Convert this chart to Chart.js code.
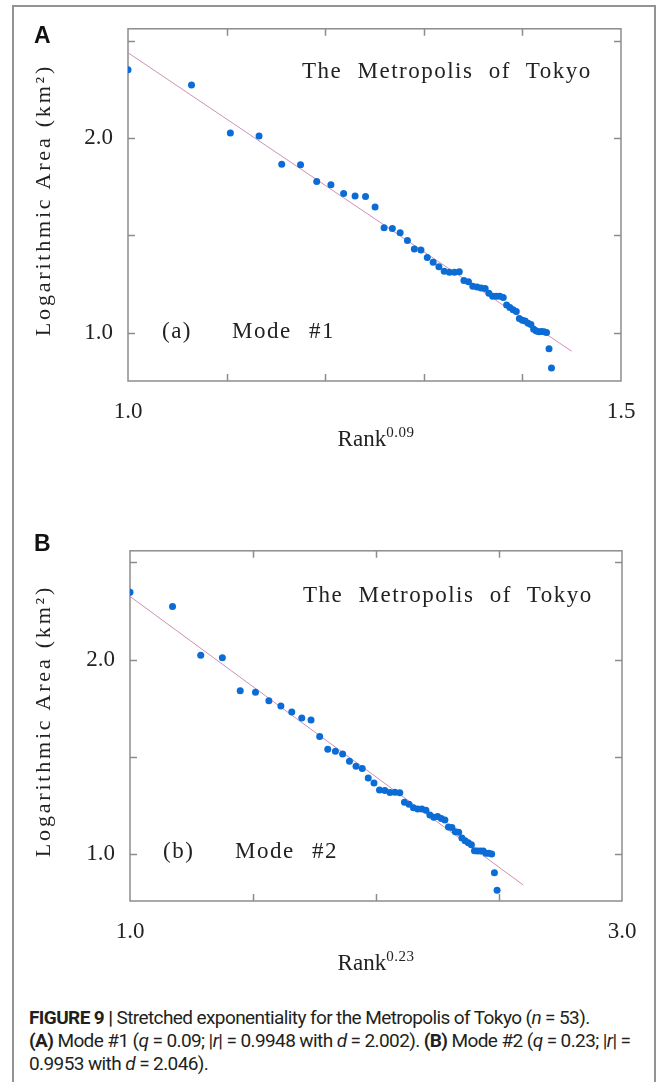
<!DOCTYPE html>
<html>
<head>
<meta charset="utf-8">
<script src="https://cdn.jsdelivr.net/npm/chart.js@4.4.1/dist/chart.umd.min.js"></script>
<style>
  html, body { margin: 0; padding: 0; background: #fff; }
  body { width: 663px; height: 1082px; position: relative; overflow: hidden; font-family: 'Liberation Serif', serif; color: #222; }
  .frame { position: absolute; left: 12px; top: 5px; width: 640px; height: 1100px; border: 2px solid #939393; border-bottom: none; }
  canvas { position: absolute; left: 0; }
  .letter { position: absolute; left: 34px; font: bold 23px/23px 'Liberation Sans', Arial, sans-serif; color: #111; }
  .ser { position: absolute; font-size: 23px; line-height: 23px; letter-spacing: 1.5px; white-space: nowrap; color: #222; }
  .ytitle { position: absolute; width: 340px; height: 22px; font-size: 22px; line-height: 22px; letter-spacing: 2.8px; text-align: center; transform: rotate(-90deg); white-space: nowrap; color: #222; }
  .xtitle { position: absolute; width: 200px; text-align: center; font-size: 23px; line-height: 23px; white-space: nowrap; color: #222; }
  .xtitle sup { font-size: 15px; vertical-align: 9px; line-height: 0; letter-spacing: 0.5px; }
  .caption { position: absolute; left: 29px; font-family: Roboto, sans-serif; font-size: 19px; line-height: 23px; color: #231f20; letter-spacing: -0.6px; white-space: nowrap; }
  .caption b { font-weight: 700; }
</style>
</head>
<body>
<div class="frame"></div>

<canvas id="chartA" width="663" height="470" style="top:0px"></canvas>
<canvas id="chartB" width="663" height="470" style="top:522px"></canvas>

<!-- panel A labels -->
<div class="letter" style="top:24px">A</div>
<div class="ser" style="left:302px; top:59px; word-spacing:8px">The Metropolis of Tokyo</div>
<div class="ser" style="left:162px; top:319px">(a)</div>
<div class="ser" style="left:232px; top:319px; word-spacing:10px">Mode #1</div>
<div class="ytitle" style="left:-127px; top:189px">Logarithmic Area (km²)</div>
<div class="xtitle" style="left:276px; top:427px">Rank<sup>0.09</sup></div>

<!-- panel B labels -->
<div class="letter" style="top:532px">B</div>
<div class="ser" style="left:303px; top:583px; word-spacing:8px">The Metropolis of Tokyo</div>
<div class="ser" style="left:163px; top:839px">(b)</div>
<div class="ser" style="left:235px; top:839px; word-spacing:10px">Mode #2</div>
<div class="ytitle" style="left:-127px; top:710px">Logarithmic Area (km²)</div>
<div class="xtitle" style="left:276px; top:951px">Rank<sup>0.23</sup></div>

<div class="caption" style="top:1006px"><b>FIGURE 9 |</b> Stretched exponentiality for the Metropolis of Tokyo (<i>n</i> = 53).</div>
<div class="caption" style="top:1029px; width:592px; text-align:justify; text-align-last:justify"><b>(A)</b> Mode #1 (<i>q</i> = 0.09; |<i>r</i>| = 0.9948 with <i>d</i> = 2.002). <b>(B)</b> Mode #2 (<i>q</i> = 0.23; |<i>r</i>| =</div>
<div class="caption" style="top:1052px">0.9953 with <i>d</i> = 2.046).</div>

<script>
// Rank^0.09 for ranks 1..53 and the log10 areas plotted against them
const rankPowA = [1.0000, 1.0644, 1.1038, 1.1329, 1.1559, 1.1750, 1.1914, 1.2058, 1.2187, 1.2303,
  1.2409, 1.2506, 1.2597, 1.2681, 1.2760, 1.2834, 1.2904, 1.2971, 1.3035, 1.3095,
  1.3153, 1.3207, 1.3260, 1.3311, 1.3360, 1.3407, 1.3453, 1.3497, 1.3540, 1.3581,
  1.3622, 1.3660, 1.3698, 1.3735, 1.3771, 1.3806, 1.3840, 1.3873, 1.3906, 1.3938,
  1.3969, 1.3999, 1.4028, 1.4058, 1.4086, 1.4114, 1.4141, 1.4168, 1.4194, 1.4220,
  1.4245, 1.4270, 1.4295];
const logAreaA = [2.352, 2.274, 2.027, 2.012, 1.866, 1.863, 1.778, 1.761, 1.716, 1.703,
  1.700, 1.646, 1.540, 1.535, 1.514, 1.474, 1.430, 1.425, 1.386, 1.362,
  1.339, 1.315, 1.310, 1.311, 1.313, 1.268, 1.261, 1.239, 1.234, 1.230,
  1.227, 1.203, 1.187, 1.187, 1.187, 1.181, 1.142, 1.129, 1.117, 1.108,
  1.073, 1.063, 1.060, 1.048, 1.042, 1.017, 1.008, 1.005, 1.006, 1.005,
  1.000, 0.917, 0.818];
const fitXA = [1.0, 1.450];
const fitYA = [2.440, 0.904];

// Rank^0.23 for the same ranks
const rankPowB = [1.0000, 1.1728, 1.2875, 1.3755, 1.4480, 1.5100, 1.5645, 1.6133, 1.6576, 1.6982,
  1.7359, 1.7710, 1.8039, 1.8349, 1.8643, 1.8921, 1.9187, 1.9441, 1.9684, 1.9918,
  2.0142, 2.0359, 2.0568, 2.0771, 2.0967, 2.1157, 2.1341, 2.1521, 2.1695, 2.1865,
  2.2030, 2.2191, 2.2349, 2.2503, 2.2653, 2.2801, 2.2945, 2.3086, 2.3225, 2.3360,
  2.3493, 2.3624, 2.3752, 2.3878, 2.4002, 2.4123, 2.4243, 2.4361, 2.4476, 2.4590,
  2.4702, 2.4813, 2.4922];
const logAreaB = [2.347, 2.273, 2.022, 2.009, 1.839, 1.831, 1.788, 1.760, 1.729, 1.699,
  1.689, 1.603, 1.538, 1.527, 1.513, 1.476, 1.450, 1.438, 1.389, 1.364,
  1.328, 1.325, 1.315, 1.316, 1.313, 1.265, 1.255, 1.237, 1.230, 1.230,
  1.223, 1.199, 1.188, 1.191, 1.181, 1.173, 1.137, 1.134, 1.113, 1.110,
  1.080, 1.066, 1.056, 1.046, 1.015, 1.014, 1.014, 1.014, 1.002, 1.002,
  0.998, 0.902, 0.812];
const fitXB = [1.0, 2.599];
const fitYB = [2.325, 0.838];

// axis ticks (only the labelled ones get text)
const yTickValues = [1.0, 1.5, 2.0, 2.5];
const yTickLabels = ['1.0', '', '2.0', ''];
const xTickValuesA = [1.0, 1.1, 1.2, 1.3, 1.4, 1.5];
const xTickLabelsA = ['1.0', '', '', '', '', '1.5'];
const xTickValuesB = [1.0, 1.5, 2.0, 2.5, 3.0];
const xTickLabelsB = ['1.0', '', '', '', '3.0'];

const dotColor = '#0b6cd6';
const fitColor = '#cf8fb8';
const frameColor = '#8d8d8d';

// box around the plot area with short inward ticks on all four sides
const frameTicks = {
  id: 'frameTicks',
  beforeDatasetsDraw(chart) {
    const { ctx, chartArea: a, scales } = chart;
    const len = 7;
    ctx.save();
    ctx.strokeStyle = frameColor;
    ctx.lineWidth = 1.5;
    ctx.strokeRect(a.left, a.top, a.right - a.left, a.bottom - a.top);
    ctx.beginPath();
    scales.x.ticks.forEach(t => {
      if (t.value <= scales.x.min || t.value >= scales.x.max) return;
      const px = Math.round(scales.x.getPixelForValue(t.value)) + 0.5;
      ctx.moveTo(px, a.bottom); ctx.lineTo(px, a.bottom - len);
      ctx.moveTo(px, a.top); ctx.lineTo(px, a.top + len);
    });
    scales.y.ticks.forEach(t => {
      if (t.value <= scales.y.min || t.value >= scales.y.max) return;
      const py = Math.round(scales.y.getPixelForValue(t.value)) + 0.5;
      ctx.moveTo(a.left, py); ctx.lineTo(a.left + len, py);
      ctx.moveTo(a.right, py); ctx.lineTo(a.right - len, py);
    });
    ctx.stroke();
    ctx.restore();
  }
};

function makePanel(id, xs, ys, fitX, fitY, xr, yr, xTicks, xLabels, geom) {
  const pts = xs.map((x, i) => ({ x: x, y: ys[i] }));
  const fit = fitX.map((x, i) => ({ x: x, y: fitY[i] }));
  return new Chart(document.getElementById(id), {
    type: 'scatter',
    data: {
      datasets: [
        { data: pts, pointRadius: 3.5, pointBackgroundColor: dotColor, pointBorderWidth: 0 },
        { data: fit, showLine: true, pointRadius: 0, borderColor: fitColor, borderWidth: 1 }
      ]
    },
    options: {
      responsive: false,
      animation: false,
      devicePixelRatio: 1,
      layout: { padding: { top: geom.top, right: geom.right, left: 0, bottom: 0 } },
      plugins: { legend: { display: false }, tooltip: { enabled: false } },
      scales: {
        x: {
          type: 'linear', min: xr[0], max: xr[1],
          grid: { display: false, drawTicks: false },
          border: { display: false },
          afterBuildTicks: s => { s.ticks = xTicks.map(v => ({ value: v })); },
          afterFit: s => { s.height = geom.xh; },
          ticks: {
            autoSkip: false, maxRotation: 0, padding: 17, color: '#222',
            font: { family: "'Liberation Serif', serif", size: 23 },
            callback: (v, i) => xLabels[i]
          }
        },
        y: {
          type: 'linear', min: yr[0], max: yr[1],
          grid: { display: false, drawTicks: false },
          border: { display: false },
          afterBuildTicks: s => { s.ticks = yTickValues.map(v => ({ value: v })); },
          afterFit: s => { s.width = geom.yw; },
          ticks: {
            autoSkip: false, padding: 15, color: '#222',
            font: { family: "'Liberation Serif', serif", size: 23 },
            callback: (v, i) => yTickLabels[i]
          }
        }
      }
    },
    plugins: [frameTicks]
  });
}

makePanel('chartA', rankPowA, logAreaA, fitXA, fitYA, [1.0, 1.5], [0.751, 2.563],
  xTickValuesA, xTickLabelsA, { top: 24, right: 42, yw: 128, xh: 470 - 24 - 357 });
makePanel('chartB', rankPowB, logAreaB, fitXB, fitYB, [1.0, 3.0], [0.756, 2.560],
  xTickValuesB, xTickLabelsB, { top: 24, right: 41, yw: 130, xh: 470 - 24 - 355 });
</script>
</body>
</html>
